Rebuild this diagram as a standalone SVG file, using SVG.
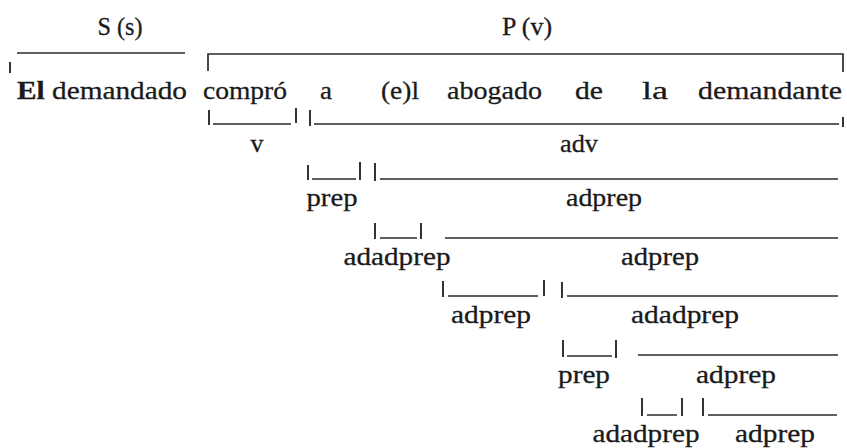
<svg xmlns="http://www.w3.org/2000/svg" width="847" height="448" viewBox="0 0 847 448">
  <style>
    .t { font-family: "Liberation Serif", "Times New Roman", serif; font-size: 26px; fill: #1a1a1a; stroke: #1a1a1a; stroke-width: 0.3; }
    .c { text-anchor: middle; }
    .b { font-weight: bold; }
    .ln { stroke: #2a2a2a; stroke-width: 1.7; fill: none; stroke-linecap: butt; }
    .tk { stroke: #2a2a2a; stroke-width: 1.9; fill: none; }
  </style>
  <rect width="847" height="448" fill="#ffffff"/>

  <!-- constituent labels -->
  <g id="S"><text class="t c" x="120" y="35" textLength="45" lengthAdjust="spacingAndGlyphs">S (s)</text></g>
  <g id="P"><text class="t c" x="527" y="35" textLength="50" lengthAdjust="spacingAndGlyphs">P (v)</text></g>

  <!-- the sentence -->
  <g id="sentence">
    <text class="t" x="17" y="99" textLength="170" lengthAdjust="spacingAndGlyphs"><tspan class="b">El</tspan> demandado</text>
    <text class="t" x="203" y="99" textLength="84" lengthAdjust="spacingAndGlyphs">compró</text>
    <text class="t" x="320" y="99" textLength="12" lengthAdjust="spacingAndGlyphs">a</text>
    <text class="t" x="381" y="99" textLength="38" lengthAdjust="spacingAndGlyphs">(e)l</text>
    <text class="t" x="447" y="99" textLength="95" lengthAdjust="spacingAndGlyphs">abogado</text>
    <text class="t" x="575" y="99" textLength="28" lengthAdjust="spacingAndGlyphs">de</text>
    <text class="t" x="642" y="99" textLength="26" lengthAdjust="spacingAndGlyphs">la</text>
    <text class="t" x="698" y="99" textLength="144" lengthAdjust="spacingAndGlyphs">demandante</text>
  </g>

  <!-- function labels under the brackets -->
  <g id="v"><text class="t c" x="257" y="152" textLength="13" lengthAdjust="spacingAndGlyphs">v</text></g>
  <g id="adv"><text class="t c" x="579" y="152" textLength="38" lengthAdjust="spacingAndGlyphs">adv</text></g>
  <g id="prep1"><text class="t c" x="332" y="206" textLength="51" lengthAdjust="spacingAndGlyphs">prep</text></g>
  <g id="adprep1"><text class="t c" x="604" y="206" textLength="76" lengthAdjust="spacingAndGlyphs">adprep</text></g>
  <g id="adadprep1"><text class="t c" x="397" y="265" textLength="107" lengthAdjust="spacingAndGlyphs">adadprep</text></g>
  <g id="adprep2"><text class="t c" x="660" y="265" textLength="78" lengthAdjust="spacingAndGlyphs">adprep</text></g>
  <g id="adprep3"><text class="t c" x="491" y="323" textLength="80" lengthAdjust="spacingAndGlyphs">adprep</text></g>
  <g id="adadprep2"><text class="t c" x="685" y="323" textLength="108" lengthAdjust="spacingAndGlyphs">adadprep</text></g>
  <g id="prep2"><text class="t c" x="584" y="383" textLength="52" lengthAdjust="spacingAndGlyphs">prep</text></g>
  <g id="adprep4"><text class="t c" x="736" y="383" textLength="80" lengthAdjust="spacingAndGlyphs">adprep</text></g>
  <g id="adadprep3"><text class="t c" x="646" y="442" textLength="107" lengthAdjust="spacingAndGlyphs">adadprep</text></g>
  <g id="adprep5"><text class="t c" x="775" y="442" textLength="80" lengthAdjust="spacingAndGlyphs">adprep</text></g>

  <!-- brackets -->
  <g id="brackets">
    <!-- S and P -->
    <path class="ln" d="M17,53 H185"/>
    <path class="tk" d="M10,62 V73"/>
    <path class="ln" d="M208,71 V54 H843 V72"/>
    <!-- v / adv -->
    <path class="tk" d="M209,110 V125 M296,108 V123 M310,110 V126 M843,117 V127"/>
    <path class="ln" d="M213,124 H291 M314,124 H839"/>
    <!-- prep / adprep -->
    <path class="tk" d="M308,165 V180 M360,162 V180 M375,163 V181"/>
    <path class="ln" d="M312,179 H356 M380,179 H838"/>
    <!-- adadprep / adprep -->
    <path class="tk" d="M375,223 V239 M421,223 V239"/>
    <path class="ln" d="M380,238 H417 M445,238 H838"/>
    <!-- adprep / adadprep -->
    <path class="tk" d="M443,281 V297 M544,280 V296 M562,282 V298"/>
    <path class="ln" d="M448,296 H538 M567,296 H838"/>
    <!-- prep / adprep -->
    <path class="tk" d="M563,340 V357 M616,340 V358"/>
    <path class="ln" d="M567,356 H612 M638,355 H838"/>
    <!-- adadprep / adprep -->
    <path class="tk" d="M642,398 V416 M682,398 V416 M703,398 V416"/>
    <path class="ln" d="M647,415 H677 M708,415 H837"/>
  </g>
</svg>
